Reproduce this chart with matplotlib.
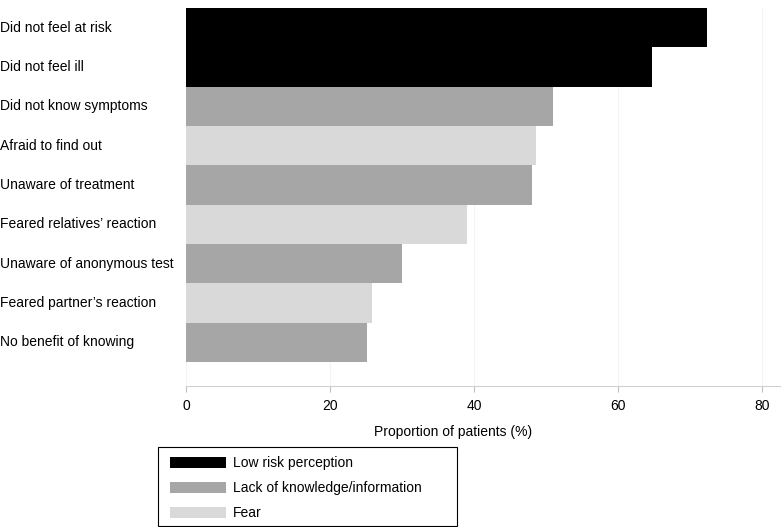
import matplotlib
matplotlib.use("Agg")
import matplotlib.pyplot as plt
from matplotlib.patches import Patch, Rectangle
from matplotlib.transforms import blended_transform_factory

plt.rcParams['font.family'] = ['Liberation Sans', 'DejaVu Sans']

categories = ["Did not feel at risk", "Did not feel ill", "Did not know symptoms",
              "Afraid to find out", "Unaware of treatment", "Feared relatives\u2019 reaction",
              "Unaware of anonymous test", "Feared partner\u2019s reaction", "No benefit of knowing"]
values = [72.3, 64.7, 51.0, 48.6, 48.1, 39.0, 30.0, 25.9, 25.2]
groups = ["Low risk perception", "Low risk perception", "Lack of knowledge/information",
          "Fear", "Lack of knowledge/information", "Fear",
          "Lack of knowledge/information", "Fear", "Lack of knowledge/information"]
group_names = ["Low risk perception", "Lack of knowledge/information", "Fear"]
group_colors = {"Low risk perception": "#000000",
                "Lack of knowledge/information": "#a6a6a6",
                "Fear": "#d9d9d9"}
xticks = [0, 20, 40, 60, 80]

W, H = 784, 527
FS = 10
fig = plt.figure(figsize=(W/100, H/100), dpi=100)
ax = fig.add_axes([186/W, 1-386/H, (780-186)/W, (386-8)/H])

ypos = list(range(len(categories)))
ax.barh(ypos, values, height=1.0, color=[group_colors[g] for g in groups],
        edgecolor='none', zorder=2)
ax.set_xlim(0, 82.5)
ax.set_ylim(8.5 + 0.61, -0.5)
ax.set_xticks(xticks)
ax.set_xticklabels([str(t) for t in xticks], fontsize=FS)
ax.set_yticks([])
ax.grid(axis='x', color='#f4f4f4', linewidth=0.8, zorder=0)
for s in ['top', 'right', 'left']:
    ax.spines[s].set_visible(False)
ax.spines['bottom'].set_color('#d0d0d0')
ax.spines['bottom'].set_linewidth(0.8)
ax.tick_params(axis='x', colors='#c0c0c0', length=4, width=0.8, labelcolor='black', pad=5)

trans = blended_transform_factory(fig.transFigure, ax.transData)
for y, c in zip(ypos, categories):
    ax.text(0.0, y, c, transform=trans, ha='left', va='center', fontsize=FS, color='black')

fig.text(453/W, 1-432/H, "Proportion of patients (%)", ha='center', va='center', fontsize=FS)

# legend box
fig.patches.append(Rectangle((158/W, 1-526/H), (457-158)/W, (526-447)/H,
                             transform=fig.transFigure, facecolor='white',
                             edgecolor='black', linewidth=0.8))
handles = [Patch(facecolor=group_colors[g], edgecolor='none', label=g) for g in group_names]
leg = fig.legend(handles=handles, loc='upper left', bbox_to_anchor=(166/W, 1-452/H),
                 frameon=False, fontsize=FS, handlelength=4.0,
                 handleheight=0.9, handletextpad=0.55, labelspacing=0.8,
                 borderpad=0.3, borderaxespad=0.0)

fig.savefig("out.png", dpi=100)
